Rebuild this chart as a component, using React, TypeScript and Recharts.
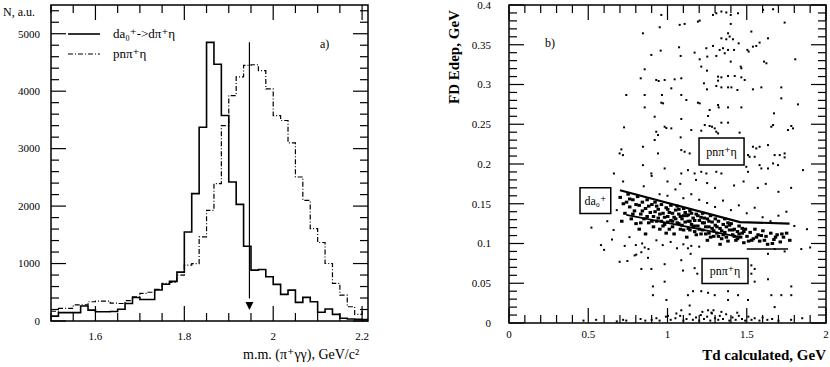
import React from "react";
import {
  ComposedChart,
  ScatterChart,
  Line,
  Scatter,
  XAxis,
  YAxis,
  ReferenceArea,
  ReferenceLine,
} from "recharts";

const FONT = '"Liberation Serif", "DejaVu Serif", serif';

// ---- panel a) : missing mass histogram ----
const M_MIN = 1.5;
const M_MAX = 2.2133;
const BIN = 1 / 60;

// da0+ -> d pi+ eta (solid)
const solidCounts = [
  85, 145, 145, 145, 260, 190, 160, 160, 165, 205, 305, 410, 375, 375, 540, 640,
  690, 850, 1550, 2217, 3373, 4850, 4470, 3576, 2420, 2030, 1300, 885, 897, 770,
  637, 463, 538, 325, 411, 335, 151, 208, 116, 47, 35, 30, 25,
];
// p n pi+ eta (dash-dot)
const dashCounts = [
  170, 220, 220, 280, 280, 335, 345, 345, 310, 305, 355, 420, 480, 500, 550, 655,
  672, 798, 972, 1000, 1464, 1927, 2390, 3400, 3924, 4250, 4450, 4460, 4358, 4040,
  3576, 3490, 3102, 2506, 2100, 1609, 1366, 1001, 654, 451, 248, 116, 200,
];

const massMajor = [1.6, 1.8, 2, 2.2];
const massTicks = Array.from({ length: 15 }, (_, i) => Math.round((1.5 + i * 0.05) * 100) / 100);
const countTicks = Array.from({ length: 28 }, (_, i) => i * 200);

const cutMass = 1.9465;
const cutTop = 4850;
const cutTip = 190;

// ---- panel b) : FD Edep vs Td ----
const upperCloud = [
  [0.961, 0.3875], [1.077, 0.375], [1.108, 0.3762], [1.192, 0.3791], [1.203, 0.3804], [1.287, 0.3875],
  [1.308, 0.3896], [1.34, 0.3918], [1.371, 0.3906], [1.399, 0.3875], [1.399, 0.3762], [1.445, 0.3896],
  [1.603, 0.3939], [1.666, 0.3947], [1.739, 0.3779], [0.845, 0.3644], [0.951, 0.372], [1.382, 0.3644],
  [1.34, 0.3581], [1.371, 0.3569], [1.392, 0.3603], [1.413, 0.3569], [1.529, 0.3666], [1.56, 0.3485],
  [1.581, 0.3527], [1.634, 0.3581], [1.449, 0.3518], [0.957, 0.3426], [1.073, 0.3468], [1.171, 0.3401],
  [1.245, 0.3456], [1.287, 0.3485], [1.329, 0.3435], [1.35, 0.3456], [1.361, 0.3393], [1.382, 0.3435],
  [1.42, 0.3435], [1.504, 0.3435], [1.512, 0.3414], [1.539, 0.3476], [1.806, 0.3317], [1.609, 0.3288],
  [1.624, 0.3267], [0.898, 0.3372], [1.083, 0.3359], [1.203, 0.3317], [1.251, 0.3351], [1.308, 0.3359],
  [1.399, 0.3288], [1.462, 0.3225], [1.466, 0.3204], [1.213, 0.3225], [0.856, 0.3191], [1.249, 0.3174],
  [0.831, 0.3078], [0.929, 0.3057], [0.944, 0.3044], [0.982, 0.3057], [1.045, 0.3065], [1.087, 0.3078],
  [1.23, 0.3015], [1.319, 0.3099], [1.34, 0.309], [1.319, 0.3048], [1.382, 0.3107], [1.424, 0.3107],
  [1.466, 0.309], [1.487, 0.3057], [1.308, 0.2981], [1.34, 0.2964], [1.382, 0.2964], [1.403, 0.2964],
  [1.441, 0.2931], [1.539, 0.2939], [1.592, 0.2964], [1.718, 0.2964], [0.74, 0.2868], [0.856, 0.2868],
  [0.965, 0.2868], [1.024, 0.2952], [1.249, 0.2939], [1.718, 0.2826], [1.823, 0.275], [1.087, 0.2868],
  [1.119, 0.2805], [0.961, 0.2771], [0.972, 0.2763], [1.192, 0.2771], [1.203, 0.2763], [1.266, 0.2679],
  [1.319, 0.2742], [1.323, 0.2712], [1.382, 0.2712], [1.466, 0.2712], [1.672, 0.2637], [0.856, 0.2712],
  [0.919, 0.2595], [1.087, 0.2566], [1.256, 0.2604], [1.235, 0.249], [1.266, 0.2478], [1.281, 0.2469],
  [1.298, 0.2448], [1.34, 0.252], [1.382, 0.252], [1.455, 0.2394], [1.655, 0.2469], [1.666, 0.249],
  [1.781, 0.2478], [1.792, 0.2448], [0.982, 0.2469], [0.993, 0.2452], [1.024, 0.2448], [0.726, 0.2461],
  [0.929, 0.2406], [0.94, 0.2364], [1.15, 0.2427], [1.213, 0.2419], [1.083, 0.2335], [1.308, 0.2406],
  [1.319, 0.2385], [1.76, 0.2427], [0.919, 0.2302], [0.845, 0.2217], [0.709, 0.2184], [0.698, 0.2133],
  [0.719, 0.2112], [0.94, 0.2133], [1.087, 0.2175], [1.108, 0.2154], [1.14, 0.2133], [1.539, 0.2217],
  [1.56, 0.2196], [1.581, 0.2217], [1.634, 0.2238], [1.676, 0.2112], [1.708, 0.2112], [1.739, 0.2133],
  [1.739, 0.2083], [1.666, 0.2007], [1.697, 0.1986], [1.508, 0.2112], [1.518, 0.2091], [1.55, 0.2091],
  [0.662, 0.1881], [0.845, 0.1986], [0.898, 0.1881], [0.982, 0.1944], [1.087, 0.1881], [1.129, 0.1923],
  [1.171, 0.1881], [1.213, 0.1902], [1.245, 0.1881], [1.308, 0.1902], [1.34, 0.1881], [1.497, 0.1965],
  [1.508, 0.1902], [1.855, 0.1923], [1.581, 0.1986], [1.592, 0.1944], [1.634, 0.1944],
];

const bandCloud = [
  [0.7, 0.158], [0.72, 0.15], [0.73, 0.138], [0.75, 0.162], [0.76, 0.146], [0.77, 0.131], [0.78, 0.155],
  [0.79, 0.141], [0.8, 0.125], [0.71, 0.128], [0.81, 0.159], [0.82, 0.148], [0.83, 0.137], [0.84, 0.152],
  [0.85, 0.131], [0.86, 0.144], [0.87, 0.155], [0.88, 0.126], [0.89, 0.139], [0.9, 0.149], [0.82, 0.118],
  [0.86, 0.112], [0.91, 0.134], [0.92, 0.152], [0.93, 0.128], [0.94, 0.143], [0.95, 0.137], [0.96, 0.149],
  [0.97, 0.122], [0.98, 0.133], [0.99, 0.145], [1.0, 0.127], [0.92, 0.14], [0.95, 0.118], [0.97, 0.138],
  [0.99, 0.113], [1.01, 0.139], [1.02, 0.148], [1.03, 0.121], [1.04, 0.133], [1.05, 0.142], [1.06, 0.126],
  [1.07, 0.137], [1.08, 0.118], [1.09, 0.131], [1.1, 0.144], [1.02, 0.129], [1.04, 0.112], [1.06, 0.147],
  [1.08, 0.134], [1.03, 0.138], [1.11, 0.127], [1.12, 0.135], [1.13, 0.119], [1.14, 0.141], [1.15, 0.124],
  [1.16, 0.132], [1.17, 0.115], [1.18, 0.137], [1.19, 0.122], [1.2, 0.129], [1.12, 0.108], [1.15, 0.138],
  [1.18, 0.111], [1.13, 0.128], [1.16, 0.121], [1.21, 0.133], [1.22, 0.117], [1.23, 0.126], [1.24, 0.112],
  [1.25, 0.131], [1.26, 0.121], [1.27, 0.108], [1.28, 0.127], [1.29, 0.116], [1.3, 0.123], [1.22, 0.138],
  [1.25, 0.104], [1.27, 0.135], [1.24, 0.121], [1.31, 0.113], [1.32, 0.128], [1.33, 0.119], [1.34, 0.106],
  [1.35, 0.124], [1.36, 0.114], [1.37, 0.121], [1.38, 0.103], [1.39, 0.117], [1.4, 0.125], [1.33, 0.099],
  [1.36, 0.131], [1.41, 0.111], [1.42, 0.118], [1.43, 0.104], [1.44, 0.115], [1.45, 0.122], [1.46, 0.108],
  [1.47, 0.113], [1.48, 0.101], [1.49, 0.118], [1.5, 0.109], [1.52, 0.114], [1.54, 0.106], [1.55, 0.118],
  [1.57, 0.111], [1.58, 0.103], [1.6, 0.116], [1.62, 0.109], [1.63, 0.099], [1.65, 0.113], [1.67, 0.105],
  [1.69, 0.111], [1.71, 0.102], [1.73, 0.108], [1.75, 0.113], [1.77, 0.104],
  [0.74, 0.152], [0.78, 0.137], [0.84, 0.141], [0.88, 0.147], [0.91, 0.121], [0.94, 0.132], [0.98, 0.124],
  [1.01, 0.118], [1.05, 0.131], [1.09, 0.123], [1.11, 0.139], [1.14, 0.117], [1.17, 0.129], [1.19, 0.135],
  [1.21, 0.112], [1.26, 0.128], [1.29, 0.109], [1.31, 0.121], [1.35, 0.111], [1.38, 0.126], [1.42, 0.109],
  [1.45, 0.112], [1.48, 0.115], [1.53, 0.104], [1.59, 0.11], [1.66, 0.1],
  [0.76, 0.156], [0.8, 0.149], [0.83, 0.126], [0.87, 0.134], [0.9, 0.128], [0.93, 0.147], [0.96, 0.128],
  [1.0, 0.134], [1.0, 0.143], [1.03, 0.128], [1.07, 0.125], [1.07, 0.143], [1.1, 0.117], [1.1, 0.135],
  [1.13, 0.136], [1.14, 0.128], [1.17, 0.122], [1.2, 0.118], [1.22, 0.126], [1.23, 0.132], [1.26, 0.113],
  [1.28, 0.119], [1.3, 0.131], [1.32, 0.109], [1.34, 0.116], [1.37, 0.108], [1.39, 0.123], [1.41, 0.117],
  [1.44, 0.106], [1.47, 0.119], [1.51, 0.103], [1.56, 0.108], [1.61, 0.104], [1.68, 0.108], [1.72, 0.112],
];

const nearBand = [
  [0.62, 0.128], [0.66, 0.117], [0.52, 0.12], [0.68, 0.142], [0.76, 0.108], [0.8, 0.098], [0.84, 0.1],
  [0.88, 0.093], [0.93, 0.104], [0.97, 0.098], [1.02, 0.102], [1.06, 0.094], [1.1, 0.099], [1.15, 0.097],
  [1.2, 0.096], [0.95, 0.162], [1.0, 0.16], [1.05, 0.168], [1.1, 0.157], [1.15, 0.162], [1.2, 0.155],
  [1.25, 0.151], [1.3, 0.146], [1.35, 0.154], [1.4, 0.142], [1.45, 0.148], [1.5, 0.138], [1.55, 0.145],
  [1.6, 0.133], [1.65, 0.128], [1.7, 0.135], [1.75, 0.14], [1.8, 0.122], [1.88, 0.118], [1.9, 0.095],
  [0.58, 0.098], [0.6, 0.092], [0.65, 0.105], [0.72, 0.178], [0.85, 0.172], [0.9, 0.185], [1.0, 0.178],
  [1.08, 0.175], [1.18, 0.18], [1.25, 0.176], [1.3, 0.17], [1.42, 0.173], [1.48, 0.178], [1.57, 0.17],
  [1.62, 0.175], [1.7, 0.165], [1.78, 0.17],
];

const lowCloud = [
  [0.73, 0.097], [0.793, 0.085], [0.803, 0.086], [0.835, 0.089], [0.856, 0.095], [0.877, 0.082], [0.698, 0.077],
  [0.747, 0.078], [0.835, 0.068], [0.898, 0.068], [0.982, 0.074], [1.087, 0.079], [1.129, 0.094], [1.146, 0.087],
  [1.098, 0.066], [1.171, 0.069], [1.188, 0.062], [1.529, 0.0725], [1.55, 0.068], [1.529, 0.062], [1.634, 0.087],
  [1.676, 0.093], [1.739, 0.09], [1.844, 0.093], [0.908, 0.046], [0.982, 0.052], [0.908, 0.035], [0.993, 0.029],
  [1.129, 0.035], [1.161, 0.04], [1.213, 0.04], [1.256, 0.038], [1.298, 0.035], [1.382, 0.04], [1.382, 0.029],
  [1.445, 0.035], [1.508, 0.029], [1.55, 0.052], [1.634, 0.055], [1.655, 0.035], [1.718, 0.035], [1.781, 0.046],
  [1.781, 0.035], [1.676, 0.02], [1.14, 0.022], [1.056, 0.012], [1.087, 0.016], [1.256, 0.016], [1.277, 0.013],
  [1.003, 0.009],
];

const floorCloud = [
  [0.47, 0.003], [0.55, 0.004], [0.68, 0.002], [0.72, 0.004], [0.74, 0.003], [0.83, 0.005], [0.86, 0.003],
  [0.9, 0.004], [0.93, 0.006], [0.95, 0.003], [0.99, 0.008], [1.02, 0.004], [1.05, 0.006], [1.08, 0.009],
  [1.1, 0.003], [1.12, 0.005], [1.14, 0.011], [1.16, 0.004], [1.18, 0.007], [1.2, 0.003], [1.21, 0.01],
  [1.23, 0.005], [1.25, 0.008], [1.27, 0.003], [1.28, 0.012], [1.3, 0.006], [1.32, 0.004], [1.33, 0.009],
  [1.35, 0.005], [1.37, 0.011], [1.39, 0.003], [1.41, 0.007], [1.43, 0.004], [1.45, 0.009], [1.47, 0.005],
  [1.49, 0.003], [1.51, 0.008], [1.53, 0.004], [1.55, 0.006], [1.58, 0.003], [1.6, 0.007], [1.63, 0.004],
  [1.66, 0.005], [1.7, 0.003], [1.78, 0.004], [1.85, 0.006], [1.29, 0.016], [1.34, 0.014], [1.44, 0.013],
  [1.22, 0.014],
];

// kinematic loci drawn over the cloud
const upperLocus = [[0.7, 0.167], [1.457, 0.127], [1.77, 0.125]];
const lowerLocus = [[0.74, 0.136], [1.46, 0.108]];
const floorLocus = [[1.5, 0.093], [1.76, 0.093]];

const tdTicks = Array.from({ length: 21 }, (_, i) => i / 10);
const edepTicks = Array.from({ length: 41 }, (_, i) => i / 100);

const toXY = (pts: number[][]) => pts.map(([x, y]) => ({ x, y }));

const histData = solidCounts.map((s, i) => ({ x: M_MIN + i * BIN, solid: s, dash: dashCounts[i] }));
histData.push({ x: M_MIN + solidCounts.length * BIN, solid: solidCounts[solidCounts.length - 1], dash: dashCounts[dashCounts.length - 1] });

const A_W = 317;
const A_H = 316;
const B_W = 317;
const B_H = 318;

const fmt = (v: number) => String(Math.round(v * 100) / 100);

// ticks point inward (and are mirrored on the opposite side), labels sit outside
const makeYTick = (isMajor: (v: number) => boolean, plotW: number, gap: number) => (p: any) => {
  const v = p.payload.value;
  const major = isMajor(v);
  const len = major ? 15 : 8;
  const x0 = p.x;
  return (
    <g>
      <line x1={x0} x2={x0 + len} y1={p.y} y2={p.y} stroke="#000" strokeWidth={1.2} />
      <line x1={x0 + plotW - len} x2={x0 + plotW} y1={p.y} y2={p.y} stroke="#000" strokeWidth={1.2} />
      {major && (
        <text x={x0 - gap} y={p.y} dy="0.35em" textAnchor="end" fontSize={11} fontFamily={FONT} fill="#000">
          {fmt(v)}
        </text>
      )}
    </g>
  );
};

const makeXTick = (isMajor: (v: number) => boolean, plotH: number, gap: number) => (p: any) => {
  const v = p.payload.value;
  const major = isMajor(v);
  const len = major ? 15 : 8;
  const y0 = p.y;
  return (
    <g>
      <line x1={p.x} x2={p.x} y1={y0} y2={y0 - len} stroke="#000" strokeWidth={1.2} />
      <line x1={p.x} x2={p.x} y1={y0 - plotH} y2={y0 - plotH + len} stroke="#000" strokeWidth={1.2} />
      {major && (
        <text x={p.x} y={y0 + gap} textAnchor="middle" fontSize={11} fontFamily={FONT} fill="#000">
          {fmt(v)}
        </text>
      )}
    </g>
  );
};

const Dot = (p: any) => <rect x={p.cx - 1} y={p.cy - 1} width={2} height={2} fill="#000" />;
const BigDot = (p: any) => <rect x={p.cx - 1.5} y={p.cy - 1.5} width={3.5} height={3} fill="#000" />;
const NoDot = () => <g />;
const ArrowHead = (p: any) => (
  <path d={`M${p.cx - 4},${p.cy - 8} L${p.cx + 4},${p.cy - 8} L${p.cx},${p.cy} Z`} fill="#000" />
);

const txt = (style: React.CSSProperties): React.CSSProperties => ({
  position: "absolute",
  fontFamily: FONT,
  color: "#000",
  whiteSpace: "nowrap",
  lineHeight: 1,
  ...style,
});

const boxLabel = { position: "center" as const, fontSize: 12, fontFamily: FONT, fill: "#000" };

export default function App() {
  return (
    <div style={{ position: "absolute", left: 0, top: 0, width: 830, height: 367, background: "#fff" }}>
      <div style={{ position: "absolute", left: 0, top: 0 }}>
        <ComposedChart width={400} height={367} data={histData} margin={{ top: 5, right: 32, bottom: 16, left: 11 }}>
          <XAxis
            dataKey="x"
            type="number"
            domain={[M_MIN, M_MAX]}
            allowDataOverflow
            ticks={massTicks}
            interval={0}
            height={30}
            tickSize={0}
            tickMargin={0}
            axisLine={false}
            tickLine={false}
            tick={makeXTick((v) => massMajor.some((m) => Math.abs(m - v) < 1e-6), A_H, 19)}
          />
          <YAxis
            type="number"
            domain={[0, 5500]}
            allowDataOverflow
            ticks={countTicks}
            interval={0}
            width={40}
            tickSize={0}
            tickMargin={0}
            axisLine={false}
            tickLine={false}
            tick={makeYTick((v) => v % 1000 === 0, A_W, 11)}
          />
          <ReferenceArea x1={M_MIN} x2={M_MAX} y1={0} y2={5500} fill="none" stroke="#000" strokeWidth={1.5} />
          <Line dataKey="dash" type="stepAfter" stroke="#000" strokeWidth={1.2} strokeDasharray="5 2 1 2" dot={false} isAnimationActive={false} />
          <Line dataKey="solid" type="stepAfter" stroke="#000" strokeWidth={1.6} dot={false} isAnimationActive={false} />
          <ReferenceLine segment={[{ x: cutMass, y: cutTop }, { x: cutMass, y: cutTip + 200 }]} stroke="#000" strokeWidth={1.2} />
          <Scatter data={[{ x: cutMass, y: cutTip }]} dataKey="y" shape={ArrowHead} isAnimationActive={false} />
        </ComposedChart>
      </div>

      <div style={{ position: "absolute", left: 400, top: 0 }}>
        <ScatterChart width={430} height={367} margin={{ top: 5, right: 4, bottom: 14, left: 69 }}>
          <XAxis
            dataKey="x"
            type="number"
            domain={[0, 2]}
            allowDataOverflow
            ticks={tdTicks}
            interval={0}
            height={30}
            tickSize={0}
            tickMargin={0}
            axisLine={false}
            tickLine={false}
            tick={makeXTick((v) => Math.abs(v * 2 - Math.round(v * 2)) < 1e-6, B_H, 15)}
          />
          <YAxis
            dataKey="y"
            type="number"
            domain={[0, 0.4]}
            allowDataOverflow
            ticks={edepTicks}
            interval={0}
            width={40}
            tickSize={0}
            tickMargin={0}
            axisLine={false}
            tickLine={false}
            tick={makeYTick((v) => Math.abs(v * 20 - Math.round(v * 20)) < 1e-6, B_W, 18)}
          />
          <ReferenceArea x1={0} x2={2} y1={0} y2={0.4} fill="none" stroke="#000" strokeWidth={1.5} />
          <Scatter data={toXY(upperCloud)} shape={Dot} isAnimationActive={false} />
          <Scatter data={toXY(lowCloud)} shape={Dot} isAnimationActive={false} />
          <Scatter data={toXY(floorCloud)} shape={Dot} isAnimationActive={false} />
          <Scatter data={toXY(nearBand)} shape={Dot} isAnimationActive={false} />
          <Scatter data={toXY(bandCloud)} shape={BigDot} isAnimationActive={false} />
          <Scatter data={toXY(upperLocus)} shape={NoDot} line={{ stroke: "#000", strokeWidth: 2.2 }} isAnimationActive={false} />
          <Scatter data={toXY(lowerLocus)} shape={NoDot} line={{ stroke: "#000", strokeWidth: 1.8 }} isAnimationActive={false} />
          <Scatter data={toXY(floorLocus)} shape={NoDot} line={{ stroke: "#000", strokeWidth: 1.4 }} isAnimationActive={false} />
          <ReferenceArea x1={1.199} x2={1.483} y1={0.1986} y2={0.2326} fill="#fff" fillOpacity={1} stroke="#000" strokeWidth={1.5} label={{ value: "pnπ⁺η", ...boxLabel }} />
          <ReferenceArea x1={0.448} x2={0.642} y1={0.1378} y2={0.17} fill="#fff" fillOpacity={1} stroke="#000" strokeWidth={1.5} label={{ value: "da₀⁺", ...boxLabel }} />
          <ReferenceArea x1={1.218} x2={1.508} y1={0.0496} y2={0.0811} fill="#fff" fillOpacity={1} stroke="#000" strokeWidth={1.5} label={{ value: "pnπ⁺η", ...boxLabel }} />
        </ScatterChart>
      </div>

      {/* panel a) annotations */}
      <div style={txt({ left: 3, top: 6, fontSize: 12 })}>N, a.u.</div>
      <div style={txt({ left: 320, top: 38, fontSize: 12 })}>a)</div>
      <div style={txt({ left: 243, top: 348, fontSize: 14 })}>m.m. (π⁺γγ), GeV/c²</div>
      <div style={{ position: "absolute", left: 66, top: 24 }}>
        {[
          { label: "da₀⁺->dπ⁺η", dash: undefined, w: 1.6 },
          { label: "pnπ⁺η", dash: "5 2 1 2", w: 1.2 },
        ].map((it, i) => (
          <div key={i} style={{ display: "flex", alignItems: "center", height: 20 }}>
            <svg width={36} height={6}>
              <line x1={2} x2={34} y1={3} y2={3} stroke="#000" strokeWidth={it.w} strokeDasharray={it.dash} />
            </svg>
            <span style={{ marginLeft: 11, fontFamily: FONT, fontSize: 13 }}>{it.label}</span>
          </div>
        ))}
      </div>

      {/* panel b) annotations */}
      <div style={txt({ left: 545, top: 37, fontSize: 12 })}>b)</div>
      <div
        style={txt({
          left: 454,
          top: 57,
          fontSize: 15,
          fontWeight: "bold",
          transform: "translate(-50%, -50%) rotate(-90deg)",
        })}
      >
        FD Edep, GeV
      </div>
      <div style={txt({ right: 4, top: 348, fontSize: 15, fontWeight: "bold" })}>Td calculated, GeV</div>
    </div>
  );
}
